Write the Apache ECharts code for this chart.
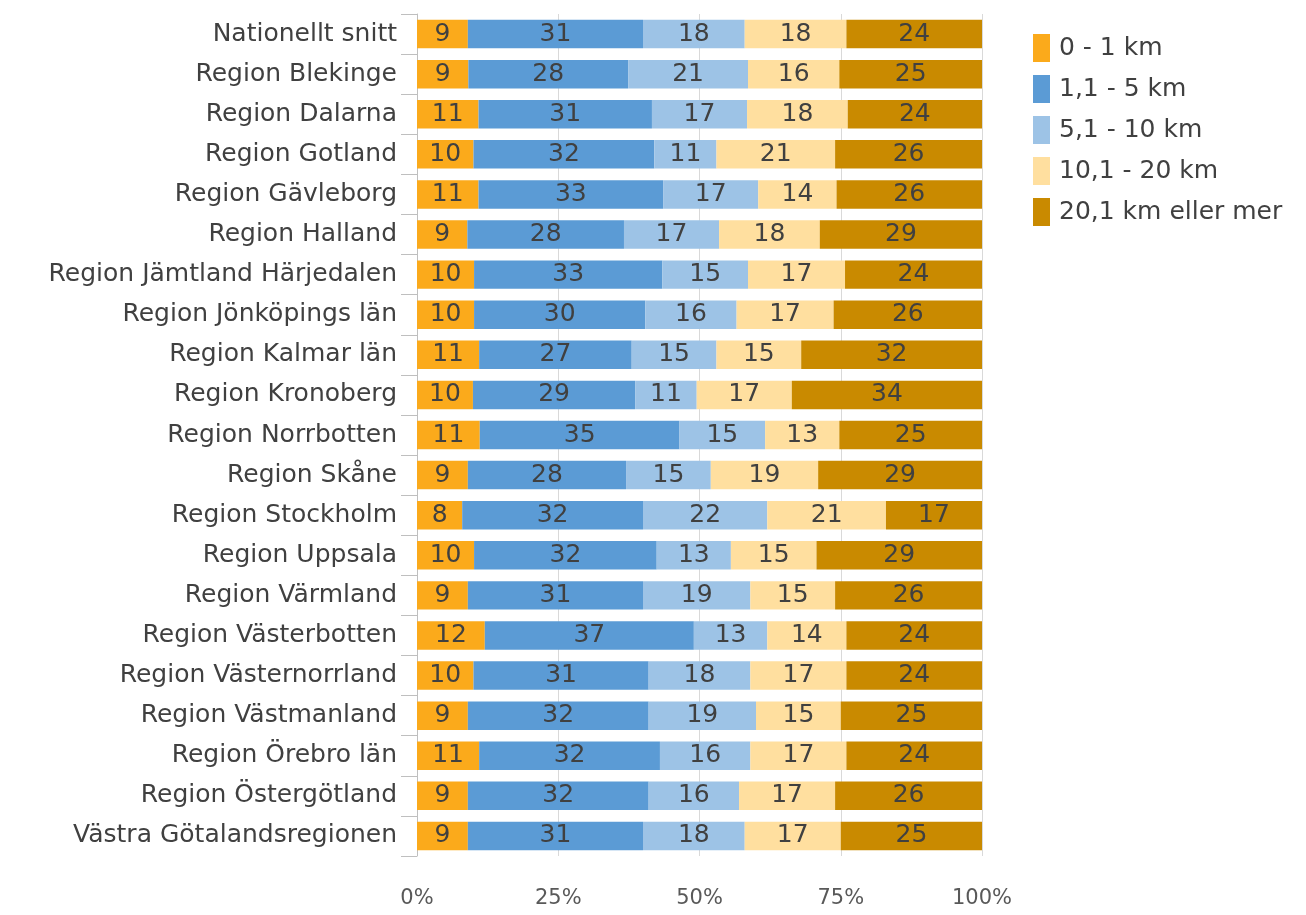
<!DOCTYPE html>
<html><head><meta charset="utf-8">
<script src="https://cdn.jsdelivr.net/npm/echarts@6/dist/echarts.min.js"></script>
<style>html,body{margin:0;padding:0;background:#fff}#c{width:1306px;height:915px}</style>
</head><body><div id="c"></div>
<script>
const categories = ["Nationellt snitt","Region Blekinge","Region Dalarna","Region Gotland","Region Gävleborg","Region Halland","Region Jämtland Härjedalen","Region Jönköpings län","Region Kalmar län","Region Kronoberg","Region Norrbotten","Region Skåne","Region Stockholm","Region Uppsala","Region Värmland","Region Västerbotten","Region Västernorrland","Region Västmanland","Region Örebro län","Region Östergötland","Västra Götalandsregionen"];
const seriesNames = ["0 - 1 km","1,1 - 5 km","5,1 - 10 km","10,1 - 20 km","20,1 km eller mer"];
const s0_1 = [9,9,11,10,11,9,10,10,11,10,11,9,8,10,9,12,10,9,11,9,9];
const s1_5 = [31,28,31,32,33,28,33,30,27,29,35,28,32,32,31,37,31,32,32,32,31];
const s5_10 = [18,21,17,11,17,17,15,16,15,11,15,15,22,13,19,13,18,19,16,16,18];
const s10_20 = [18,16,18,21,14,18,17,17,15,17,13,19,21,15,15,14,17,15,17,17,17];
const s20plus = [24,25,24,26,26,29,24,26,32,34,25,29,17,29,26,24,24,25,24,26,25];
const xTicks = ["0%","25%","50%","75%","100%"];

const allSeries = [s0_1, s1_5, s5_10, s10_20, s20plus];
const colors = ["#FBAA1B","#5B9BD5","#9DC3E6","#FFDF9F","#C98A00"];
const totals = categories.map((_, i) => allSeries.reduce((a, s) => a + s[i], 0));
const font = "DejaVu Sans, Verdana, sans-serif";

const chart = echarts.init(document.getElementById('c'));
chart.setOption({
  animation: false,
  grid: {left: 417, right: 324, top: 14, bottom: 59, containLabel: false},
  legend: {
    orient: 'vertical', left: 1028, top: 29, itemWidth: 17, itemHeight: 28, itemGap: 13,
    icon: 'rect',
    textStyle: {fontFamily: font, fontSize: 25, color: '#404040', padding: [0,0,0,4]},
    data: seriesNames
  },
  xAxis: {
    type: 'value', min: 0, max: 100, interval: 25,
    axisLabel: {formatter: v => xTicks[v / 25], fontFamily: font, fontSize: 21, color: '#595959', margin: 32},
    axisLine: {show: false}, axisTick: {show: false},
    splitLine: {lineStyle: {color: '#D9D9D9', width: 1}}
  },
  yAxis: {
    type: 'category', data: categories, inverse: true,
    axisLine: {show: true, lineStyle: {color: '#BFBFBF', width: 1}},
    axisTick: {show: true, length: 16, lineStyle: {color: '#BFBFBF'}},
    axisLabel: {fontFamily: font, fontSize: 25, color: '#404040', margin: 20}
  },
  series: allSeries.map((s, k) => ({
    name: seriesNames[k], type: 'bar', stack: 'all', barWidth: '71%',
    itemStyle: {color: colors[k]},
    label: {show: true, position: 'inside', fontFamily: font, fontSize: 25, color: '#404040',
      formatter: p => String(s[p.dataIndex])},
    data: s.map((v, i) => v / totals[i] * 100)
  }))
});
</script></body></html>
